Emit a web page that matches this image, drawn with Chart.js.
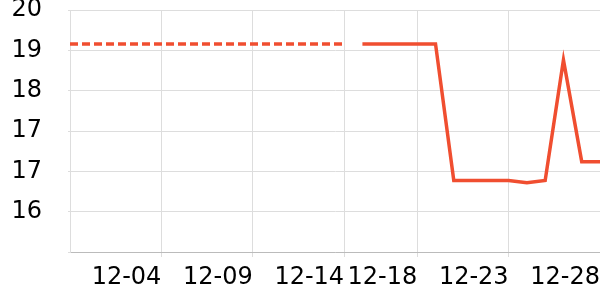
<!DOCTYPE html>
<html>
<head>
<meta charset="utf-8">
<script src="https://cdn.jsdelivr.net/npm/chart.js@4/dist/chart.umd.min.js"></script>
<style>
  html, body { margin: 0; padding: 0; background: #fff; }
  #wrap { width: 600px; height: 300px; }
</style>
</head>
<body>
<div id="wrap"><canvas id="chart"></canvas></div>
<script>
// ===== dados =====
const dias = [
  "11-29", "11-30", "12-01", "12-02", "12-03", "12-04", "12-05", "12-06",
  "12-07", "12-08", "12-09", "12-10", "12-11", "12-12", "12-13", "12-14",
  "12-15", "12-16", "12-17", "12-18", "12-19", "12-20", "12-21", "12-22",
  "12-23", "12-24", "12-25", "12-26", "12-27", "12-28",
];
// dias com rotulo no eixo x
const diasRotulo = ["12-04", "12-09", "12-14", "12-18", "12-23", "12-28"];

// trecho tracejado (antes) e trecho continuo (depois)
const serieTracejada = [
  19.37, 19.37, 19.37, 19.37, 19.37, 19.37, 19.37, 19.37,
  19.37, 19.37, 19.37, 19.37, 19.37, 19.37, 19.37, 19.37,
  null, null, null, null, null, null, null, null,
  null, null, null, null, null, null,
];
const serieContinua = [
  null, null, null, null, null, null, null, null,
  null, null, null, null, null, null, null, null,
  19.37, 19.37, 19.37, 19.37, 19.37, 16.83, 16.83, 16.83,
  16.83, 16.79, 16.83, 19.07, 17.18, 17.18,
];

const yTicks = [15.5, 16.25, 17, 17.75, 18.5, 19.25, 20];
const yRotulos = ["", "16", "17", "17", "18", "19", "20"];

const cor = "#f04e30";
const corGrade = "#dddddd";

// zera o padding automatico dos eixos e fixa o tamanho
function fixaEixo(tamanho, horizontal) {
  return (scale) => {
    scale.paddingTop = 0;
    scale.paddingBottom = 0;
    scale.paddingLeft = 0;
    scale.paddingRight = 0;
    if (horizontal) scale.height = tamanho;
    else scale.width = tamanho;
  };
}

const ctx = document.getElementById("chart");

new Chart(ctx, {
  type: "line",
  data: {
    labels: dias,
    datasets: [
      {
        data: serieTracejada,
        borderColor: cor,
        borderWidth: 3.5,
        borderDash: [8, 4],
        pointRadius: 0,
        tension: 0,
        spanGaps: false,
      },
      {
        data: serieContinua,
        borderColor: cor,
        borderWidth: 3.5,
        pointRadius: 0,
        tension: 0,
        spanGaps: false,
      },
    ],
  },
  options: {
    responsive: true,
    maintainAspectRatio: false,
    animation: false,
    layout: { padding: { top: 10, right: 0, left: 0, bottom: 0 } },
    plugins: {
      legend: { display: false },
      tooltip: { enabled: false },
    },
    scales: {
      x: {
        offset: false,
        afterFit: fixaEixo(48, true),
        grid: {
          color: (c) =>
            c.tick && diasRotulo.includes(dias[c.index]) ? corGrade : "transparent",
          tickLength: 5,
        },
        border: { color: "#bbbbbb" },
        ticks: {
          autoSkip: false,
          maxRotation: 0,
          align: "end",
          padding: 6,
          color: "#000",
          font: { family: "DejaVu Sans", size: 24 },
          callback: (v, i) => (diasRotulo.includes(dias[i]) ? dias[i] : ""),
        },
      },
      y: {
        min: 15.5,
        max: 20,
        afterFit: fixaEixo(70, false),
        afterBuildTicks: (scale) => {
          scale.ticks = yTicks.map((v) => ({ value: v }));
        },
        grid: { color: corGrade, tickLength: 2 },
        border: { color: corGrade },
        ticks: {
          padding: 26,
          color: "#000",
          font: { family: "DejaVu Sans", size: 24 },
          callback: (v) => {
            const i = yTicks.indexOf(v);
            return i >= 0 ? yRotulos[i] : "";
          },
        },
      },
    },
  },
});
</script>
</body>
</html>
